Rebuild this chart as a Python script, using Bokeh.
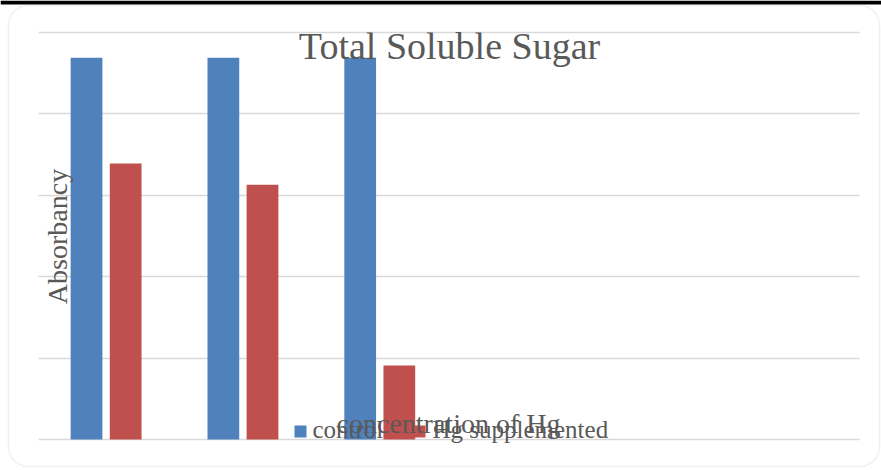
from bokeh.plotting import figure
from bokeh.models import (ColumnDataSource, Range1d, Grid, FixedTicker,
                          BoxAnnotation, Label)
from bokeh.transform import dodge
from bokeh.embed import file_html
from bokeh.resources import INLINE
import math

# ---- data -------------------------------------------------------------
n_slots = 6                      # category slots along the x axis
slot_index = [0, 1, 2]           # slots that carry measurements
control = [4.69, 4.69, 4.69]
hg_supplemented = [3.39, 3.13, 0.91]
y_ticks = [0, 1, 2, 3, 4, 5]

title_text = "Total Soluble Sugar"
y_title = "Absorbancy"
x_title = "concentration of Hg"
series_names = ["control", "Hg supplemented"]

# ---- page geometry (pixels) --------------------------------------------
W, H = 881, 470
PL, PR, PT, PB = 38, 859, 32, 439   # plot area inside the chart box

x0, x1 = -0.5, n_slots - 0.5
y0, y1 = 0, y_ticks[-1]
xs_per_px = (x1 - x0) / (PR - PL)
ys_per_px = (y1 - y0) / (PB - PT)


def sx(px):
    return x0 + (px - PL) * xs_per_px


def sy(py):
    return y0 + (PB - py) * ys_per_px


FONT = "Liberation Serif"
TEXT = "#595959"
BLUE = "#4f81bd"
RED = "#c0504d"
GRID = "#d9d9d9"


def text_label(px, baseline_py, text, size, align="left", angle=0.0,
               horizontal=True):
    # place a label so that its alphabetic baseline lands on baseline_py
    # (or on px for text turned upright)
    shift = 0.33 * size
    if horizontal:
        x, y = sx(px), sy(baseline_py - shift)
    else:
        x, y = sx(px - shift), sy(baseline_py)
    return Label(x=x, y=y, text=text, text_font=FONT,
                 text_font_size=f"{size}px", text_color=TEXT,
                 text_align=align, text_baseline="alphabetic", angle=angle)


p = figure(width=W, height=H, output_backend="svg", toolbar_location=None,
           x_axis_location=None, y_axis_location=None, min_border=0,
           x_range=Range1d(sx(0), sx(W)), y_range=Range1d(sy(H), sy(0)),
           outline_line_color=None, background_fill_color="white",
           border_fill_color="white")
p.center = []

# horizontal gridlines limited to the plot area
grid = Grid(dimension=1, ticker=FixedTicker(ticks=y_ticks),
            cross_bounds=(x0, x1),
            grid_line_color=GRID, grid_line_width=1.5)
p.add_layout(grid)

src = ColumnDataSource(dict(x=slot_index, control=control,
                            hg=hg_supplemented))
bar_w = 0.232
p.vbar(x=dodge("x", -0.149), top="control", bottom=0, width=bar_w,
       source=src, fill_color=BLUE, line_color=None)
p.vbar(x=dodge("x", 0.137), top="hg", bottom=0, width=bar_w,
       source=src, fill_color=RED, line_color=None)

# chart box with rounded corners and dark strip along the top edge
p.add_layout(BoxAnnotation(left=sx(0), right=sx(W), top=sy(0), bottom=sy(4),
                           fill_color="black", fill_alpha=1, line_color=None))
p.add_layout(BoxAnnotation(left=sx(8), right=sx(879), top=sy(5),
                           bottom=sy(466), fill_alpha=0, line_color="#d0d0d0",
                           line_width=1.5, border_radius=20))

# legend
p.add_layout(BoxAnnotation(left=sx(294), right=sx(306), top=sy(425),
                           bottom=sy(437), fill_color=BLUE, fill_alpha=1,
                           line_color=None))
p.add_layout(text_label(312, 437, series_names[0], 25))
p.add_layout(BoxAnnotation(left=sx(413), right=sx(425), top=sy(425),
                           bottom=sy(437), fill_color=RED, fill_alpha=1,
                           line_color=None))
p.add_layout(text_label(432, 437, series_names[1], 25))

# titles
p.add_layout(text_label(449, 58, title_text, 38, align="center"))
p.add_layout(text_label(448, 432, x_title, 28, align="center"))
p.add_layout(text_label(66, 236, y_title, 28, align="center",
                        angle=math.pi / 2, horizontal=False))

open("out.html", "w").write(file_html(p, INLINE))
